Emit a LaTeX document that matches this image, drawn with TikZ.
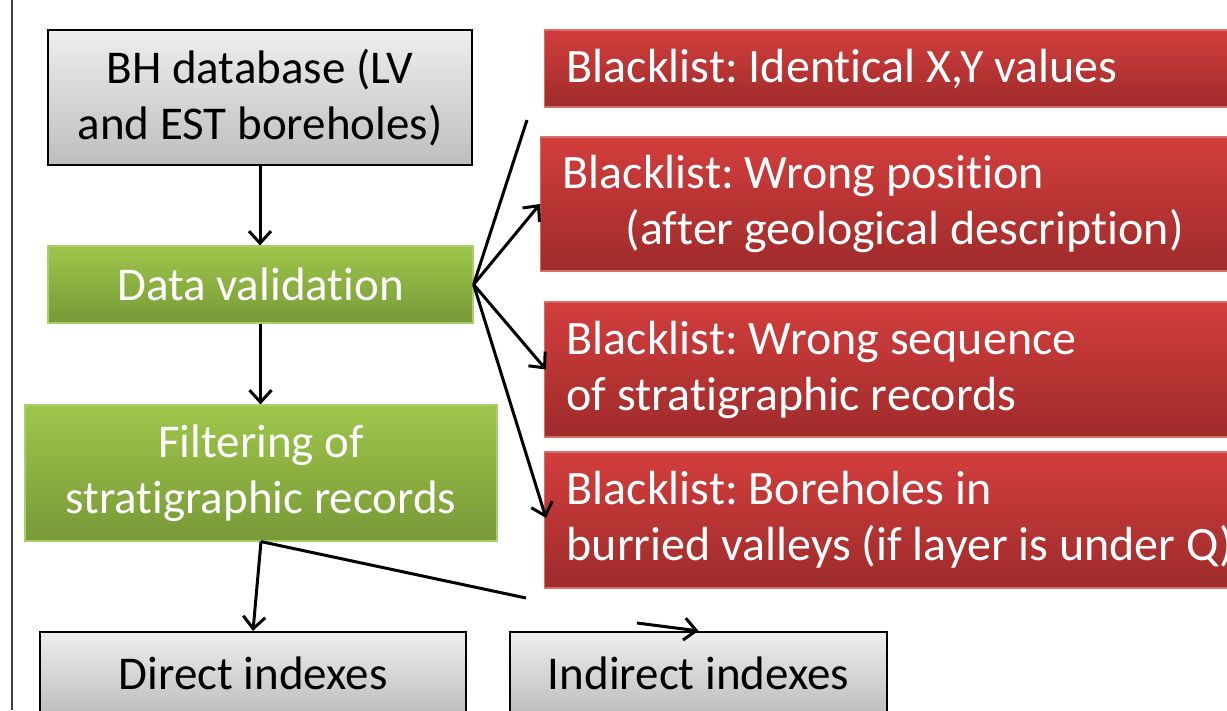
\documentclass[tikz,border=0pt]{standalone}
\usepackage{fontspec}
\setmainfont{Carlito}[Ligatures={NoCommon,NoRequired,NoContextual}]
\usetikzlibrary{arrows.meta}
\definecolor{gtop}{RGB}{238,238,238}
\definecolor{gbot}{RGB}{190,190,190}
\definecolor{grtop}{RGB}{158,198,74}
\definecolor{grbot}{RGB}{120,153,56}
\definecolor{grline}{RGB}{170,205,110}
\definecolor{rtop}{RGB}{210,62,60}
\definecolor{rbot}{RGB}{158,43,43}
\definecolor{rline}{RGB}{215,110,105}
\frenchspacing
\begin{document}
\begin{tikzpicture}[x=1pt,y=-1pt,
  txt/.style={font=\fontsize{47}{56}\selectfont},
  graybox/.style={txt, draw=black, line width=2.2pt, top color=gtop, bottom color=gbot, text=black, align=center, inner sep=0pt},
  greenbox/.style={txt, draw=grline, line width=1.2pt, top color=grtop, bottom color=grbot, text=white, align=center, inner sep=0pt},
  redbox/.style={font=\fontsize{48}{56}\selectfont, draw=rline, line width=1.2pt, top color=rtop, bottom color=rbot, text=white, align=flush left, anchor=west, inner xsep=22pt, inner ysep=0pt, text width=760pt},
  conn/.style={line width=3pt, black},
  arr/.style={conn, -{Straight Barb[length=12pt,width=22pt]}}
]
\useasboundingbox (0,0) rectangle (1227,710);
\clip (0,0) rectangle (1227,710);
\fill[white] (0,0) rectangle (1227,710);
\draw[black!75, line width=1.2pt] (12,0) -- (12,710);

\node[graybox, minimum width=424pt, minimum height=135pt] (bh) at (260,97.5) {BH database (LV\\and EST boreholes)};
\node[greenbox, minimum width=425pt, minimum height=77pt] (dv) at (260.5,284.5) {Data validation};
\node[greenbox, minimum width=472pt, minimum height=136pt] (filt) at (261,473) {Filtering of\\stratigraphic records};
\node[graybox, minimum width=426pt, minimum height=82pt] (direct) at (253,673) {Direct indexes};
\node[graybox, minimum width=377pt, minimum height=82pt] (indirect) at (698.5,673) {Indirect indexes};

\node[redbox, minimum height=77pt] (r1) at (544,68.5) {Blacklist: Identical X,Y values};
\node[redbox, minimum height=134pt] (r2) at (540,204) {Blacklist: Wrong position\\\hspace*{63pt}(after geological description)};
\node[redbox, minimum height=135pt] (r3) at (544,369.5) {Blacklist: Wrong sequence\\of stratigraphic records};
\node[redbox, minimum height=136pt] (r4) at (544,520) {Blacklist: Boreholes in\\burried valleys (if layer is under Q)};

\coordinate (c1) at (527,120);
\coordinate (c2) at (526,598);
\coordinate (c3) at (637,623);

\draw[arr] (bh.south) -- (bh.south |- dv.north);
\draw[arr] (dv.south) -- (dv.south |- filt.north);
\draw[conn] (dv.east) -- (c1);
\draw[arr] (dv.east) -- (r2.west);
\draw[arr] (dv.east) -- ([xshift=2pt]r3.west);
\draw[arr] (dv.east) -- ([xshift=2pt,yshift=2pt]r4.west);
\draw[arr] (filt.south) -- (direct.north);
\draw[conn] (filt.south) -- (c2);
\draw[arr] (c3) -- (indirect.north);
\end{tikzpicture}
\end{document}
